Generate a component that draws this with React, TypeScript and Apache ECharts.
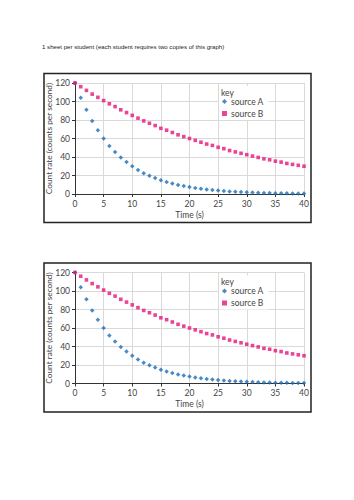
import React, { useEffect, useRef } from "react";
import * as echarts from "echarts";

const times = Array.from({ length: 41 }, (_, i) => i);
const sourceA = [120, 104, 91, 79, 69, 60, 52, 45.5, 39.5, 34.5, 30, 26, 22.5, 19.8, 17.2, 15, 13, 11.3, 9.8, 8.6, 7.5, 6.5, 5.7, 4.9, 4.3, 3.8, 3.3, 2.8, 2.5, 2.1, 1.9, 1.6, 1.4, 1.2, 1.1, 0.9, 0.8, 0.7, 0.6, 0.5, 0.5];
const sourceB = [120, 116, 112, 108, 104.5, 101, 97.5, 94.5, 91, 88, 85, 82, 79, 76.5, 74, 71, 69, 66.5, 64, 62, 60, 58, 56, 54, 52.5, 50.5, 49, 47, 45.5, 44, 42.5, 41, 39.5, 38, 37, 35.5, 34.5, 33, 32, 31, 30];
const seriesNames = ["source A", "source B"];
const xTicks = { min: 0, max: 40, interval: 5 };
const yTicks = { min: 0, max: 120, interval: 20 };
const headerText = "1 sheet per student (each student requires two copies of this graph)";
const xName = "Time (s)";
const yName = "Count rate (counts per second)";
const keyLabel = "key";

const COLOR_A = "#1b6db5";
const COLOR_B = "#e5177b";
const FONT = "Lato";

export default function App() {
  const ref = useRef<HTMLDivElement>(null);
  useEffect(() => {
    if (!ref.current) return;
    const chart = echarts.init(ref.current, null, { renderer: "svg" });
    const offsets = [0, 189.5];
    const grids = offsets.map((o) => ({ left: 75, width: 229, top: 83 + o, height: 111 }));
    const xAxes = offsets.map((_, i) => ({
      type: "value",
      gridIndex: i,
      ...xTicks,
      name: xName,
      nameLocation: "middle",
      nameGap: 16,
      nameMoveOverlap: false,
      nameTextStyle: { fontFamily: FONT, fontSize: 8.5, color: "#444" },
      axisLine: { show: true, lineStyle: { color: "#333", width: 1 } },
      axisTick: { show: true, length: 3, lineStyle: { color: "#333" } },
      axisLabel: { fontFamily: FONT, fontSize: 8.5, color: "#444", margin: 5 },
      splitLine: { show: true, lineStyle: { color: "#d9d9d9", width: 1 } },
    }));
    const yAxes = offsets.map((_, i) => ({
      type: "value",
      gridIndex: i,
      ...yTicks,
      name: yName,
      nameLocation: "middle",
      nameGap: 22,
      nameMoveOverlap: false,
      nameTextStyle: { fontFamily: FONT, fontSize: 8.3, color: "#444" },
      axisLine: { show: true, lineStyle: { color: "#333", width: 1 } },
      axisTick: { show: true, length: 3, lineStyle: { color: "#333" } },
      axisLabel: { fontFamily: FONT, fontSize: 8.5, color: "#444", margin: 5 },
      splitLine: { show: true, lineStyle: { color: "#d9d9d9", width: 1 } },
    }));
    const series: any[] = [];
    offsets.forEach((_, i) => {
      series.push({
        type: "scatter",
        name: seriesNames[0],
        xAxisIndex: i,
        yAxisIndex: i,
        symbol: "diamond",
        symbolSize: 4.5,
        itemStyle: { color: COLOR_A },
        data: times.map((t, k) => [t, sourceA[k]]),
        z: 3,
      });
      series.push({
        type: "scatter",
        name: seriesNames[1],
        xAxisIndex: i,
        yAxisIndex: i,
        symbol: "rect",
        symbolSize: 3.6,
        itemStyle: { color: COLOR_B },
        data: times.map((t, k) => [t, sourceB[k]]),
        z: 4,
      });
    });
    const legends = offsets.map((o) => ({
      orient: "vertical",
      left: 219,
      top: 86 + o,
      padding: [11, 5, 2, 3],
      backgroundColor: "#fff",
      itemWidth: 5,
      itemHeight: 5,
      itemGap: 3,
      selectedMode: false,
      textStyle: { fontFamily: FONT, fontSize: 8.5, color: "#444", padding: [0, 0, 0, -1] },
      data: [
        { name: seriesNames[0], icon: "diamond" },
        { name: seriesNames[1], icon: "rect" },
      ],
    }));
    const graphic: any[] = [
      {
        type: "text",
        left: 42,
        top: 43.5,
        style: {
          text: headerText,
          fontFamily: "'Liberation Sans Narrow', 'Liberation Sans'",
          fontSize: 6.1,
          fill: "#222",
        },
      },
    ];
    offsets.forEach((o) => {
      graphic.push({
        type: "rect",
        shape: { x: 44, y: 73.5 + o, width: 267, height: 149 },
        style: { fill: "none", stroke: "#222", lineWidth: 1.5 },
        z: 10,
      });
      graphic.push({
        type: "text",
        x: 221,
        y: 88 + o,
        style: { text: keyLabel, fontFamily: FONT, fontSize: 8.5, fill: "#444" },
        z: 100,
      });
    });
    chart.setOption({
      animation: false,
      backgroundColor: "#fff",
      grid: grids,
      xAxis: xAxes,
      yAxis: yAxes,
      legend: legends,
      series,
      graphic,
    });
    return () => chart.dispose();
  }, []);
  return (
    <div
      ref={ref}
      style={{ position: "fixed", left: 0, top: 0, width: 354, height: 500 }}
    />
  );
}
